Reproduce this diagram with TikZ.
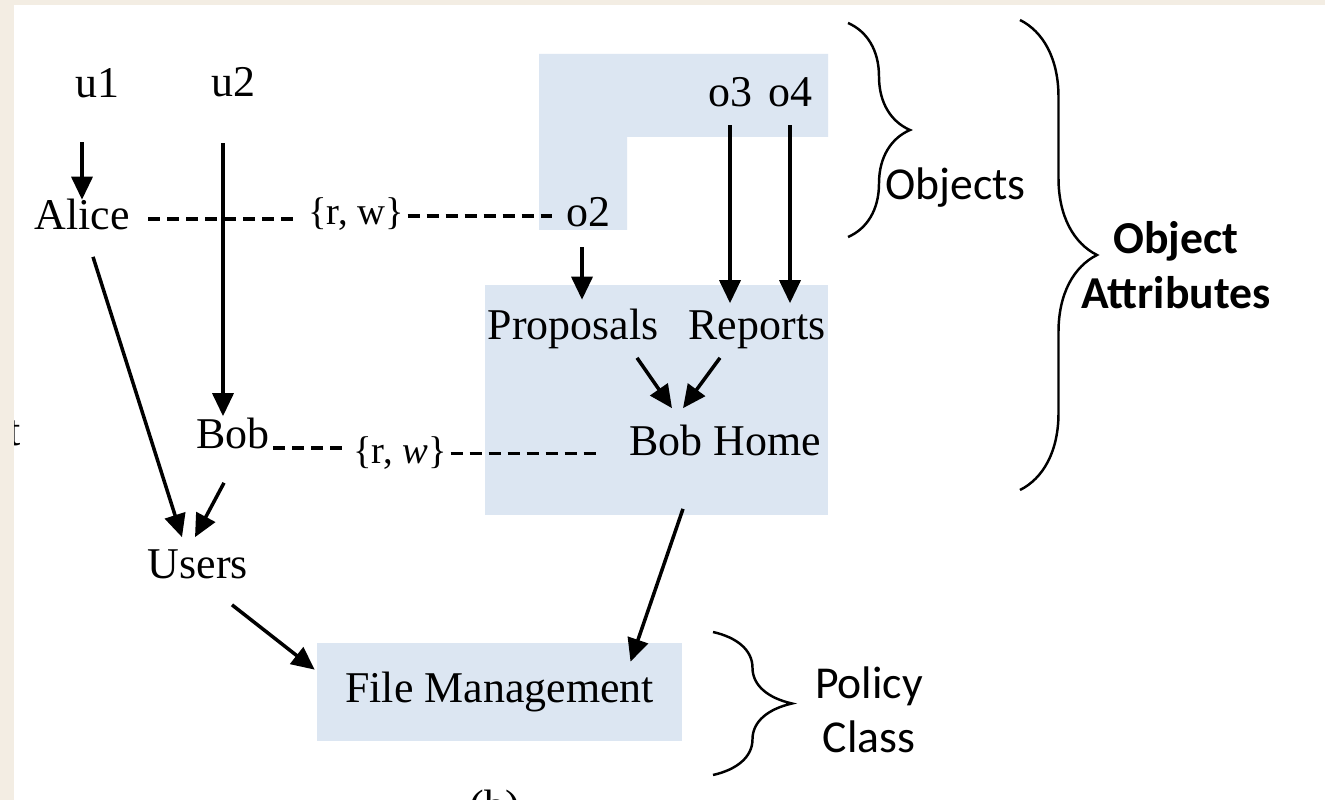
\documentclass[tikz,border=0pt]{standalone}
\usepackage{fontspec}
\setmainfont{Liberation Serif}
\newfontfamily\calib{Carlito}
\usetikzlibrary{arrows.meta,calc,decorations.pathreplacing}
\definecolor{boxblue}{RGB}{220,230,242}
\definecolor{paper}{RGB}{243,237,227}

\begin{document}
\begin{tikzpicture}[x=0.02cm, y=-0.02cm, >={Triangle[length=0.46cm,width=0.42cm]},
	txt/.style={anchor=base, inner sep=2pt, text height=18.75pt, text depth=6.25pt, font=\fontsize{25}{30}\selectfont},
	perm/.style={txt, text height=16.5pt, text depth=5.5pt, font=\fontsize{22}{26}\selectfont},
	side/.style={inner sep=0pt, align=center, font=\calib\fontsize{26}{31}\selectfont},
	arr/.style={->, line width=2pt},
	dashln/.style={line width=2pt, dash pattern=on 0.24cm off 0.14cm},
	brc/.style={decorate, line width=1.4pt, decoration={brace, amplitude=#1}}]
	
	\useasboundingbox (0,0) rectangle (1325,800);
	\clip (0,0) rectangle (1325,800);
	
	% paper and panel
	\fill[paper] (0,0) rectangle (1325,800);
	\fill[white] (14,5) rectangle (1325,800);
	\node[txt, anchor=base east] (tfrag) at (25,445) {t};
	\fill[paper] (0,0) rectangle (14,800);
	
	% shaded areas
	\fill[boxblue] (539,54) -- (828,54) -- (828,137) -- (627,137) -- (627,230) -- (539,230) -- cycle;
	\fill[boxblue] (485,285) rectangle (828,515);
	\node[fill=boxblue, minimum width=7.3cm, minimum height=1.96cm, inner sep=0pt, font=\fontsize{25}{30}\selectfont] (fm) at (499.5,692) {File Management};
	
	% users and objects
	\node[txt] (u1)      at (97,98)   {u1};
	\node[txt] (u2)      at (233,97)  {u2};
	\node[txt] (alice)   at (82,230)  {Alice};
	\node[txt] (bob)     at (233,448) {Bob};
	\node[txt] (users)   at (198,578) {Users};
	\node[txt] (o2)      at (588,227) {o2};
	\node[txt] (o3)      at (730,107) {o3};
	\node[txt] (o4)      at (790,107) {o4};
	\node[txt] (prop)    at (573,340) {Proposals};
	\node[txt] (rep)     at (757,340) {Reports};
	\node[txt] (bobhome) at (725,455) {Bob Home};
	\node[perm] (rw1)    at (356,225) {\{r, w\}};
	\node[perm] (rw2)    at (400,463) {\{r, \textit{w}\}};
	\node[txt] (cap)     at (495,820) {(b)};
	
	% assignments
	\draw[arr, shorten <=0.59cm, shorten >=-0.13cm] (u1.south -| alice) -- (alice.north);
	\draw[arr, shorten <=0.63cm, shorten >=-0.1cm] ($(u2.south)+(-10,0)$) -- ($(bob.north)+(-10,0)$);
	\draw[arr, shorten <=0.11cm, shorten >=0.07cm] ($(o2.south)+(-6,0)$) -- ($(prop.north -| o2.south)+(-6,0)$);
	\draw[arr, shorten <=0.07cm] (o3.south) -- (rep.north -| o3.south);
	\draw[arr, shorten <=0.07cm] (o4.south) -- (rep.north -| o4.south);
	\draw[arr] ($(prop.south)+(64,3)$) -- ($(bobhome.north)+(-53,-10)$);
	\draw[arr] ($(rep.south)+(-37,3)$) -- ($(bobhome.north)+(-42,-10)$);
	\draw[arr] ($(alice.south)+(11,12)$) -- ($(users.north)+(-16,-4)$);
	\draw[arr] ($(bob.south)+(-9,20)$) -- ($(users.north)+(-3,-4)$);
	\draw[arr] ($(users.south)+(34,12)$) -- ($(fm.north west)+(-2,27)$);
	\draw[arr] ($(bobhome.south)+(-42,39)$) -- ($(fm.north)+(131,19)$);
	
	% associations
	\draw[dashln, shorten <=0.3cm, shorten >=0.12cm] (alice.east) -- (alice.east -| rw1.west);
	\draw[dashln, shorten >=0.2cm] (o2.west -| rw1.east) -- (o2.west);
	\draw[dashln, shorten >=0.12cm] (bob.base east) -- (bob.base east -| rw2.west);
	\draw[dashln, shorten >=0.56cm] (rw2.east) -- (rw2.east -| bobhome.west);
	
	% braces
	\draw[brc=1.24cm] (848,23) -- (848,237);
	\node[side, anchor=base west] (objs) at (885,200) {Objects};
	\draw[brc=1.54cm] (1020,20) -- (1020,490);
	\node[side, font=\calib\bfseries\fontsize{26}{31}\selectfont] (oattr) at (1176,265) {Object\\Attributes};
	\draw[brc=1.58cm] (713,632) -- (713,775);
	\node[side] (pcls) at (869,710) {Policy\\Class};
	
\end{tikzpicture}
\end{document}
